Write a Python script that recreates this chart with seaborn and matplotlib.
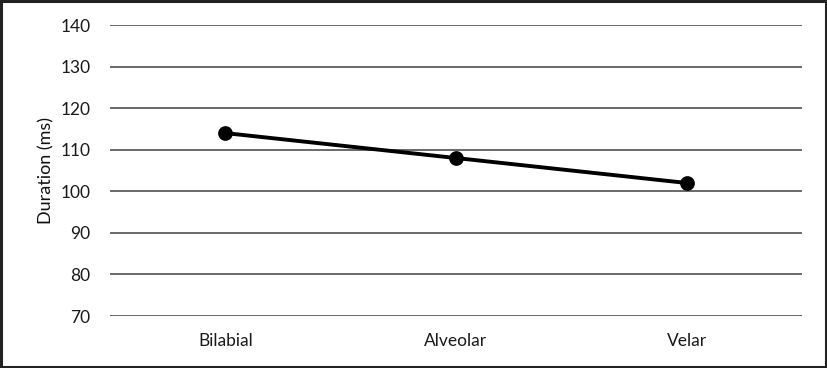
import matplotlib
matplotlib.use("Agg")
import matplotlib.pyplot as plt
import seaborn as sns
import pandas as pd

categories = ["Bilabial", "Alveolar", "Velar"]
durations = [114, 108, 102]
y_ticks = [70, 80, 90, 100, 110, 120, 130, 140]

sns.set_theme(style="white")
plt.rcParams["font.family"] = ["Lato", "DejaVu Sans"]

df = pd.DataFrame({"place": categories, "duration": durations})

fig = plt.figure(figsize=(8.27, 3.68), dpi=100)
ax = fig.add_axes([110/827, 1-316/368, (802-110)/827, (316-25)/368])

sns.pointplot(data=df, x="place", y="duration", color="black", markers="o",
              linewidth=2.8, markersize=8.5, ax=ax, errorbar=None)

ax.set_ylim(70, 140)
ax.set_xlim(-0.5, 2.5)
ax.set_yticks(y_ticks)
ax.set_yticklabels([str(t) for t in y_ticks])
for t in y_ticks:
    ax.axhline(t, color="#5e5e5e", linewidth=1.3, zorder=0)
for s in ["top", "right", "left", "bottom"]:
    ax.spines[s].set_visible(False)
ax.tick_params(axis="y", length=0, labelsize=12.5, colors="#1a1a1a", pad=14)
ax.tick_params(axis="x", length=0, labelsize=12.5, colors="#1a1a1a", pad=12)
ax.set_xlabel("")
ax.set_ylabel("Duration (ms)", fontsize=13, color="#111111", labelpad=4)

fig.patches.append(plt.Rectangle((0.0015, 0.003), 0.997, 0.994, transform=fig.transFigure,
                                 fill=False, edgecolor="#222222", linewidth=2.2))
fig.savefig("out.png", dpi=100)
